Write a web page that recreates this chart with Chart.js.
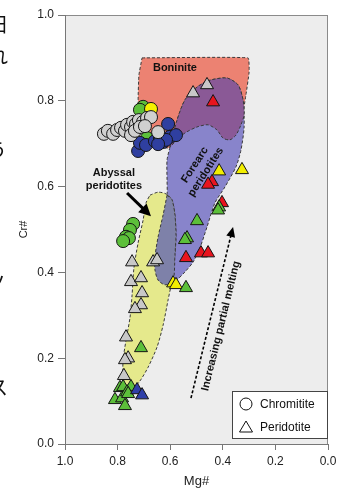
<!DOCTYPE html>
<html>
<head>
<meta charset="utf-8">
<script src="https://cdn.jsdelivr.net/npm/chart.js@4.4.0/dist/chart.umd.min.js"></script>
<style>
  html, body { margin: 0; padding: 0; background: #fff; }
  #wrap { width: 339px; height: 489px; }
</style>
</head>
<body>
<div id="wrap"><canvas id="chart" width="339" height="489"></canvas></div>
<script>
// axis ticks
const tickValues = [0, 0.2, 0.4, 0.6, 0.8, 1.0];

// chromitite samples [Mg#, Cr#]
const chromititeGray = [[0.852,0.723],[0.837,0.730],[0.817,0.723],[0.802,0.732],[0.787,0.737],[0.772,0.730],[0.764,0.744],[0.749,0.739],[0.741,0.751],[0.730,0.746],[0.719,0.755],[0.703,0.751],[0.688,0.760],[0.673,0.762],[0.749,0.720],[0.734,0.730],[0.715,0.739],[0.646,0.727],[0.696,0.741]];
const chromititeGreen = [[0.703,0.786],[0.715,0.779],[0.688,0.713],[0.741,0.513],[0.753,0.499],[0.768,0.483],[0.757,0.480],[0.779,0.473]];
const chromititeYellow = [[0.673,0.781]];
const chromititeBlue = [[0.722,0.683],[0.715,0.702],[0.692,0.697],[0.658,0.706],[0.639,0.713],[0.627,0.704],[0.608,0.746],[0.601,0.716],[0.578,0.720],[0.616,0.709],[0.646,0.699]];

// peridotite samples [Mg#, Cr#]
const peridotiteGray = [[0.513,0.818],[0.460,0.837],[0.745,0.424],[0.665,0.424],[0.650,0.429],[0.749,0.378],[0.711,0.387],[0.707,0.352],[0.711,0.324],[0.734,0.315],[0.768,0.249],[0.760,0.200],[0.772,0.196],[0.776,0.159]];
const peridotiteRed = [[0.437,0.797],[0.441,0.611],[0.456,0.605],[0.403,0.562],[0.540,0.434],[0.483,0.445],[0.456,0.445]];
const peridotiteYellow = [[0.414,0.636],[0.327,0.639],[0.589,0.375],[0.578,0.371]];
const peridotiteGreen = [[0.414,0.552],[0.418,0.545],[0.498,0.520],[0.536,0.480],[0.544,0.476],[0.540,0.364],[0.711,0.224],[0.791,0.131],[0.779,0.133],[0.749,0.133],[0.810,0.103],[0.783,0.107],[0.772,0.089],[0.764,0.121],[0.760,0.117]];
const peridotiteBlue = [[0.726,0.126],[0.707,0.114]];

// field outlines [Mg#, Cr#]
const boniniteField = [[0.707,0.900],[0.304,0.900],[0.300,0.867],[0.312,0.814],[0.335,0.744],[0.487,0.709],[0.608,0.690],[0.669,0.695],[0.692,0.713],[0.715,0.755],[0.722,0.802],[0.719,0.860],[0.707,0.900]];
const forearcField = [[0.601,0.692],[0.612,0.662],[0.612,0.615],[0.612,0.580],[0.627,0.534],[0.646,0.483],[0.658,0.436],[0.658,0.406],[0.646,0.382],[0.620,0.371],[0.593,0.375],[0.570,0.385],[0.544,0.401],[0.513,0.424],[0.487,0.457],[0.460,0.506],[0.430,0.562],[0.392,0.599],[0.350,0.646],[0.331,0.685],[0.319,0.739],[0.323,0.802],[0.342,0.837],[0.384,0.853],[0.449,0.848],[0.498,0.832],[0.544,0.802],[0.574,0.755],[0.601,0.692]];
const forearcBoniniteOverlap = [[0.601,0.692],[0.574,0.755],[0.544,0.802],[0.498,0.832],[0.449,0.848],[0.384,0.853],[0.342,0.837],[0.323,0.802],[0.319,0.767],[0.331,0.744],[0.350,0.720],[0.373,0.709],[0.399,0.713],[0.422,0.732],[0.456,0.744],[0.498,0.739],[0.544,0.725],[0.574,0.709],[0.601,0.692]];
const abyssalField = [[0.677,0.580],[0.646,0.587],[0.616,0.583],[0.593,0.569],[0.582,0.534],[0.578,0.487],[0.582,0.441],[0.593,0.382],[0.608,0.336],[0.627,0.277],[0.650,0.226],[0.684,0.179],[0.715,0.147],[0.741,0.131],[0.768,0.135],[0.779,0.154],[0.779,0.196],[0.768,0.242],[0.753,0.294],[0.745,0.347],[0.738,0.410],[0.722,0.469],[0.703,0.522],[0.692,0.562],[0.677,0.580]];
const abyssalForearcOverlap = [[0.612,0.580],[0.593,0.569],[0.582,0.534],[0.578,0.487],[0.582,0.441],[0.589,0.380],[0.620,0.371],[0.646,0.382],[0.658,0.406],[0.658,0.436],[0.646,0.483],[0.627,0.534],[0.612,0.580]];

const toXY = arr => arr.map(p => ({ x: p[0], y: p[1] }));
const FONT = '"Liberation Sans", Arial, Helvetica, sans-serif';

function field(data, color, order, tension) {
  return {
    data: toXY(data), showLine: true, fill: 'shape', backgroundColor: color,
    borderColor: '#3a3a3a', borderWidth: 1, borderDash: [3, 2],
    pointRadius: 0, tension: tension, order: order
  };
}
function samples(data, color, style, r, order) {
  return {
    data: toXY(data), pointStyle: style, pointRadius: r, pointBackgroundColor: color,
    pointBorderColor: '#151515', pointBorderWidth: 1, showLine: false, order: order
  };
}

// annotation anchors in data units
const annot = {
  boninite: [0.582, 0.876],
  abyssal: [0.814, 0.632],
  abyssal2: [0.814, 0.601],
  abyssalArrow: [[0.764, 0.585], [0.673, 0.531]],
  forearc: [0.487, 0.643],
  melting: [[0.521, 0.107], [0.361, 0.506]],
  meltingText: [0.407, 0.275]
};

function arrowHead(ctx, x1, y1, x2, y2, len, wid) {
  const a = Math.atan2(y2 - y1, x2 - x1);
  ctx.beginPath();
  ctx.moveTo(x2, y2);
  ctx.lineTo(x2 - len * Math.cos(a) + wid * Math.sin(a), y2 - len * Math.sin(a) - wid * Math.cos(a));
  ctx.lineTo(x2 - len * Math.cos(a) - wid * Math.sin(a), y2 - len * Math.sin(a) + wid * Math.cos(a));
  ctx.closePath();
  ctx.fill();
}

const decor = {
  id: 'decor',
  beforeDraw(chart) {
    const { ctx, chartArea: a } = chart;
    ctx.save();
    ctx.fillStyle = '#ededed';
    ctx.fillRect(a.left, a.top, a.right - a.left, a.bottom - a.top);
    ctx.strokeStyle = '#8a8a8a';
    ctx.lineWidth = 1;
    ctx.strokeRect(a.left + 0.5, a.top + 0.5, a.right - a.left - 1, a.bottom - a.top);
    ctx.restore();
  },
  afterDatasetsDraw(chart) {
    const { ctx, chartArea: a } = chart;
    const sx = chart.scales.x, sy = chart.scales.y;
    const P = p => [sx.getPixelForValue(p[0]), sy.getPixelForValue(p[1])];
    ctx.save();
    ctx.fillStyle = '#111';
    ctx.textAlign = 'center';
    ctx.textBaseline = 'middle';
    ctx.font = 'bold 11px ' + FONT;
    let p = P(annot.boninite);
    ctx.fillText('Boninite', p[0], p[1]);
    p = P(annot.abyssal);
    ctx.fillText('Abyssal', p[0], p[1]);
    p = P(annot.abyssal2);
    ctx.fillText('peridotites', p[0], p[1]);

    // forearc label
    p = P(annot.forearc);
    ctx.save();
    ctx.translate(p[0], p[1]);
    ctx.rotate(-57 * Math.PI / 180);
    ctx.fillText('Forearc', 0, -6);
    ctx.fillText('peridotites', 0, 7);
    ctx.restore();

    // abyssal arrow
    const a1 = P(annot.abyssalArrow[0]), a2 = P(annot.abyssalArrow[1]);
    ctx.strokeStyle = '#000';
    ctx.lineWidth = 3;
    ctx.beginPath();
    ctx.moveTo(a1[0], a1[1]);
    const ang = Math.atan2(a2[1] - a1[1], a2[0] - a1[0]);
    ctx.lineTo(a2[0] - 8 * Math.cos(ang), a2[1] - 8 * Math.sin(ang));
    ctx.stroke();
    ctx.fillStyle = '#000';
    arrowHead(ctx, a1[0], a1[1], a2[0], a2[1], 12, 6);

    // melting trend arrow
    const m1 = P(annot.melting[0]), m2 = P(annot.melting[1]);
    const mang = Math.atan2(m2[1] - m1[1], m2[0] - m1[0]);
    ctx.lineWidth = 1.6;
    ctx.setLineDash([3, 2]);
    ctx.beginPath();
    ctx.moveTo(m1[0], m1[1]);
    ctx.lineTo(m2[0] - 8 * Math.cos(mang), m2[1] - 8 * Math.sin(mang));
    ctx.stroke();
    ctx.setLineDash([]);
    arrowHead(ctx, m1[0], m1[1], m2[0], m2[1], 10, 4.5);
    p = P(annot.meltingText);
    ctx.save();
    ctx.translate(p[0], p[1]);
    ctx.rotate(mang);
    ctx.fillStyle = '#111';
    ctx.fillText('Increasing partial melting', 0, 0);
    ctx.restore();

    // legend box
    const bw = 96, bh = 48;
    const bx = a.right - bw, by = a.bottom - 5 - bh;
    ctx.fillStyle = '#fff';
    ctx.fillRect(bx, by, bw, bh);
    ctx.strokeStyle = '#444';
    ctx.lineWidth = 1;
    ctx.strokeRect(bx + 0.5, by + 0.5, bw - 1, bh - 1);
    ctx.strokeStyle = '#111';
    ctx.beginPath();
    ctx.arc(bx + 14, by + 13, 6, 0, Math.PI * 2);
    ctx.stroke();
    ctx.beginPath();
    ctx.moveTo(bx + 14, by + 30);
    ctx.lineTo(bx + 20.5, by + 41);
    ctx.lineTo(bx + 7.5, by + 41);
    ctx.closePath();
    ctx.stroke();
    ctx.fillStyle = '#111';
    ctx.textAlign = 'left';
    ctx.font = '12px ' + FONT;
    ctx.fillText('Chromitite', bx + 28, by + 14);
    ctx.fillText('Peridotite', bx + 28, by + 37);
    ctx.restore();
  },
  afterDraw(chart) {
    // fragments of the neighbouring page text at the left edge
    const { ctx } = chart;
    ctx.save();
    ctx.fillStyle = '#111';
    ctx.font = '20px "Noto Sans CJK JP"';
    ctx.textAlign = 'right';
    ctx.textBaseline = 'middle';
    ctx.fillText('田', 7, 24);
    ctx.fillText('れ', 8, 56);
    ctx.fillText('う', 7, 150);
    ctx.fillText('ノ', 7, 283);
    ctx.fillText('ス', 8, 387);
    ctx.restore();
  }
};

new Chart(document.getElementById('chart'), {
  type: 'scatter',
  data: {
    datasets: [
      samples(chromititeGray, '#d0d0d0', 'circle', 6.5, 1),
      samples(chromititeBlue, '#2f3fa0', 'circle', 6.5, 2),
      samples(chromititeYellow, '#f4f000', 'circle', 6.5, 3),
      samples(chromititeGreen, '#5cbf3a', 'circle', 6.5, 4),
      samples(peridotiteBlue, '#2f3fa8', 'triangle', 7.5, 5),
      samples(peridotiteGray, '#c8c8c8', 'triangle', 7.5, 6),
      samples(peridotiteGreen, '#5cbf3a', 'triangle', 7.5, 7),
      samples(peridotiteYellow, '#f2ee00', 'triangle', 7.5, 8),
      samples(peridotiteRed, '#e8141e', 'triangle', 7.5, 9),
      field(abyssalForearcOverlap, '#7e81a9', 20, 0.25),
      field(abyssalField, '#e5e98c', 21, 0.25),
      field(forearcBoniniteOverlap, '#8a5996', 22, 0.25),
      field(forearcField, '#8884cb', 23, 0.25),
      field(boniniteField, '#ec8272', 24, 0.1)
    ]
  },
  options: {
    responsive: false,
    animation: false,
    layout: { padding: { left: 0, right: 11, top: 15, bottom: 0 } },
    plugins: { legend: { display: false }, tooltip: { enabled: false } },
    scales: {
      x: {
        type: 'linear', min: 0, max: 1, reverse: true,
        afterFit: s => { s.height = 45; },
        afterBuildTicks: s => { s.ticks = tickValues.map(v => ({ value: v })); },
        ticks: { callback: v => v.toFixed(1), color: '#222', font: { size: 12, family: FONT }, padding: 4, maxRotation: 0 },
        grid: { drawOnChartArea: false, tickLength: 6, color: '#777' },
        border: { color: '#777' },
        title: { display: true, text: 'Mg#', color: '#222', font: { size: 13, family: FONT }, padding: { top: 0, bottom: 0 } }
      },
      y: {
        type: 'linear', min: 0, max: 1,
        afterFit: s => { s.width = 65; },
        afterBuildTicks: s => { s.ticks = tickValues.map(v => ({ value: v })); },
        ticks: { callback: v => v.toFixed(1), color: '#222', font: { size: 12, family: FONT }, padding: 4 },
        grid: { drawOnChartArea: false, tickLength: 7, color: '#777' },
        border: { color: '#777' },
        title: { display: true, text: 'Cr#', color: '#222', font: { size: 11, family: FONT }, padding: { top: 17, bottom: 0 } }
      }
    }
  },
  plugins: [decor]
});
</script>
</body>
</html>
